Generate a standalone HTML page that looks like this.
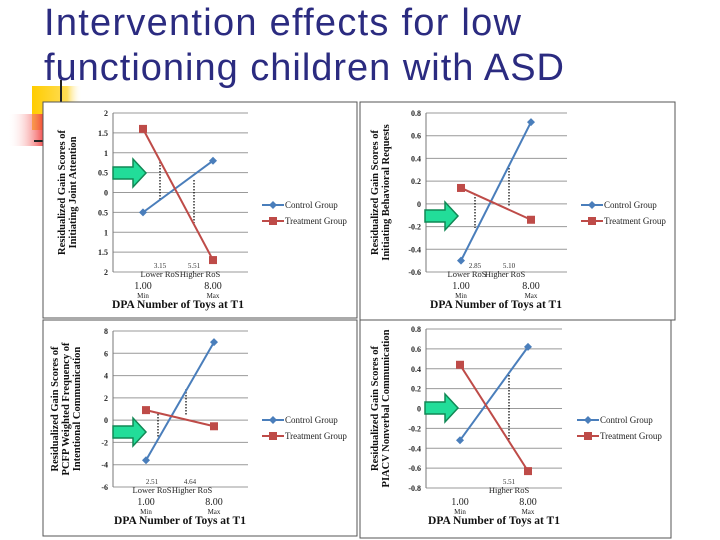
<!DOCTYPE html>
<html><head><meta charset="utf-8"><style>
body{margin:0;background:#fff;}
svg{display:block;font-family:"Liberation Serif",serif;}
</style></head><body>
<svg id="s" width="720" height="540" viewBox="0 0 720 540">
<defs>
<linearGradient id="yg" x1="0" x2="1"><stop offset="0" stop-color="#ffcc00"/><stop offset="0.7" stop-color="#ffdd55"/><stop offset="1" stop-color="#fff" stop-opacity="0"/></linearGradient>
<linearGradient id="rg" x1="1" x2="0"><stop offset="0" stop-color="#ee2222"/><stop offset="1" stop-color="#fff" stop-opacity="0"/></linearGradient>
</defs>
<rect x="32" y="86" width="50" height="44" fill="url(#yg)"/>
<rect x="8" y="114" width="40" height="32" fill="url(#rg)"/>
<line x1="61" y1="80" x2="61" y2="140" stroke="#222" stroke-width="2"/>
<line x1="34" y1="141" x2="70" y2="141" stroke="#222" stroke-width="2"/>
<text x="44" y="35" font-family="Liberation Sans, sans-serif" font-size="38" fill="#2b2b80" textLength="477">Intervention effects for low</text>
<text x="44" y="80" font-family="Liberation Sans, sans-serif" font-size="38" fill="#2b2b80" textLength="520">functioning children with ASD</text>
<g id="panels"></g>
</svg>
<script>
// Panel 1: Initiating Joint Attention
const p1Ticks = ["2","1.5","1","0.5","0","0.5","1","1.5","2"];
const p1Control = [-0.5, 0.8];
const p1Treatment = [1.6, -1.7];
// Panel 2: Initiating Behavioral Requests
const p2Ticks = ["0.8","0.6","0.4","0.2","0","-0.2","-0.4","-0.6"];
const p2Control = [-0.5, 0.72];
const p2Treatment = [0.14, -0.14];
// Panel 3: PCFP Weighted Frequency
const p3Ticks = ["8","6","4","2","0","-2","-4","-6"];
const p3Control = [-3.6, 7];
const p3Treatment = [0.9, -0.55];
// Panel 4: PIACV Nonverbal Communication
const p4Ticks = ["0.8","0.6","0.4","0.2","0","-0.2","-0.4","-0.6","-0.8"];
const p4Control = [-0.32, 0.62];
const p4Treatment = [0.44, -0.63];

const NS="http://www.w3.org/2000/svg";
const root=document.getElementById('panels');
function el(tag,attrs,parent,txt){const e=document.createElementNS(NS,tag);for(const k in attrs)e.setAttribute(k,attrs[k]);if(txt!==undefined)e.textContent=txt;(parent||root).appendChild(e);return e;}

function panel(cfg){
  const g=el('g',{});
  
  
  const box=el('rect',{x:cfg.bx,y:cfg.by,width:cfg.bw,height:cfg.bh,fill:'#fff',stroke:'#555','stroke-width':1},g);
  
  
  const ymax=cfg.ymax,ymin=cfg.ymin;
  const Y=v=>cfg.top+(ymax-v)/(ymax-ymin)*(cfg.bot-cfg.top);
  const n=cfg.ticks.length;
  cfg.ticks.forEach((t,i)=>{
    const v=ymax-i*(ymax-ymin)/(n-1);
    const ln=el('line',{x1:cfg.ax,x2:cfg.right,y1:Y(v),y2:Y(v),stroke:'#999','stroke-width':1},g);
    
    
    const tx=el('text',{x:cfg.ax-5,y:Y(v)+3,'font-size':8,'text-anchor':'end',fill:'#222','font-weight':'bold'},g,t);
    
    
  });
  const ax=el('line',{x1:cfg.ax,x2:cfg.ax,y1:cfg.top,y2:cfg.bot,stroke:'#777'},g);
  
  
  cfg.dots.forEach(d=>{
    const l=el('line',{x1:d[0],x2:d[0],y1:d[1],y2:d[2],stroke:'#000','stroke-dasharray':'1.5,1.5','stroke-width':1.2},g);
    
    
  });
  const xs=cfg.xs;
  const series=[[cfg.control,'#4a7ebb','control'],[cfg.treatment,'#be4b48','treatment']];
  series.forEach(([vals,col,nm])=>{
    const pl=el('polyline',{points:vals.map((v,i)=>xs[i]+','+Y(v)).join(' '),fill:'none',stroke:col,'stroke-width':2},g);
    
    
    vals.forEach((v,i)=>{
      let m;
      if(nm==='control'){m=el('path',{d:`M${xs[i]-4},${Y(v)} L${xs[i]},${Y(v)-4} L${xs[i]+4},${Y(v)} L${xs[i]},${Y(v)+4}Z`,fill:col},g);}
      else{m=el('rect',{x:xs[i]-4,y:Y(v)-4,width:8,height:8,fill:col},g);}
      
      
    });
  });
  const a=cfg.arrow,ay=a[1];
  const ar=el('path',{d:`M${a[0]},${ay-6} L${a[0]+20},${ay-6} L${a[0]+20},${ay-14} L${a[0]+33},${ay} L${a[0]+20},${ay+14} L${a[0]+20},${ay+6} L${a[0]},${ay+6}Z`,fill:'#22dd99',stroke:'#118855','stroke-width':1.5},g);
  
  
  const xl=cfg.xl;
  cfg.ros.forEach(r=>{const t=el('text',{x:r[0],y:xl,'font-size':7,'text-anchor':'middle',fill:'#333'},g,r[1]);});
  cfg.rosLbl.forEach(r=>{const t=el('text',{x:r[0],y:xl+9,'font-size':8.5,'text-anchor':'middle',fill:'#222'},g,r[1]);});
  [['1.00','Min'],['8.00','Max']].forEach((p,i)=>{
    const t=el('text',{x:xs[i],y:xl+21,'font-size':10,'text-anchor':'middle',fill:'#222'},g,p[0]);
    const t2=el('text',{x:xs[i],y:xl+30,'font-size':7,'text-anchor':'middle',fill:'#222'},g,p[1]);
  });
  const xt=el('text',{x:(xs[0]+xs[1])/2,y:xl+40,'font-size':11.5,'font-weight':'bold','text-anchor':'middle',fill:'#111'},g,'DPA Number of Toys at T1');
  
  
  const cy=(cfg.top+cfg.bot)/2;
  const nl=cfg.ytitle.length;
  cfg.ytitle.forEach((l,i)=>{
    const x=cfg.ax-(nl===3?55:48)+i*11;
    const t=el('text',{x:x,y:cy,'font-size':10.5,'font-weight':'bold','text-anchor':'middle',fill:'#111',transform:`rotate(-90 ${x} ${cy})`},g,l);
    
    
  });
  const lg=cfg.leg;
  [['Control Group','#4a7ebb',0],['Treatment Group','#be4b48',1]].forEach(([nm,col,i])=>{
    const y=lg[1]+i*16;
    const l=el('line',{x1:lg[0],x2:lg[0]+22,y1:y,y2:y,stroke:col,'stroke-width':2},g);
    
    const m=i===0?el('path',{d:`M${lg[0]+7},${y} L${lg[0]+11},${y-4} L${lg[0]+15},${y} L${lg[0]+11},${y+4}Z`,fill:col},g):el('rect',{x:lg[0]+7,y:y-4,width:8,height:8,fill:col},g);
    
    const t=el('text',{x:lg[0]+23,y:y+3,'font-size':9,fill:'#222'},g,nm);
    
  });
}

panel({name:'chart-joint-attention',bx:43,by:102,bw:314,bh:216,ax:113,right:248,top:113,bot:272,ymax:2,ymin:-2,ticks:p1Ticks,control:p1Control,treatment:p1Treatment,xs:[143,213],
  dots:[[160,162,200],[194,180,223]],arrow:[113,173],xl:268,ros:[[160,'3.15'],[194,'5.51']],rosLbl:[[160,'Lower RoS'],[200,'Higher RoS']],
  ytitle:['Residualized Gain Scores of','Initiating Joint Attention'],leg:[262,205]});
panel({name:'chart-behavioral-requests',bx:360,by:102,bw:315,bh:218,ax:426,right:567,top:113,bot:272,ymax:0.8,ymin:-0.6,ticks:p2Ticks,control:p2Control,treatment:p2Treatment,xs:[461,531],
  dots:[[475,194,228],[509,165,206]],arrow:[425,216],xl:268,ros:[[475,'2.85'],[509,'5.10']],rosLbl:[[467,'Lower RoS'],[505,'Higher RoS']],
  ytitle:['Residualized Gain Scores of','Initiating Behavioral Requests'],leg:[581,205]});
panel({name:'chart-pcfp-communication',bx:43,by:320,bw:314,bh:216,ax:113,right:248,top:331,bot:487,ymax:8,ymin:-6,ticks:p3Ticks,control:p3Control,treatment:p3Treatment,xs:[146,214],
  dots:[[158,414,438],[186,389,416]],arrow:[113,432],xl:484,ros:[[152,'2.51'],[190,'4.64']],rosLbl:[[152,'Lower RoS'],[192,'Higher RoS']],
  ytitle:['Residualized Gain Scores of','PCFP Weighted Frequency of','Intentional Communication'],leg:[262,420]});
panel({name:'chart-piacv-nonverbal',bx:360,by:320,bw:311,bh:218,ax:426,right:562,top:329,bot:488,ymax:0.8,ymin:-0.8,ticks:p4Ticks,control:p4Control,treatment:p4Treatment,xs:[460,528],
  dots:[[509,372,440]],arrow:[425,408],xl:484,ros:[[509,'5.51']],rosLbl:[[509,'Higher RoS']],
  ytitle:['Residualized Gain Scores of','PIACV Nonverbal Communication'],leg:[577,420]});
</script>
</body></html>
